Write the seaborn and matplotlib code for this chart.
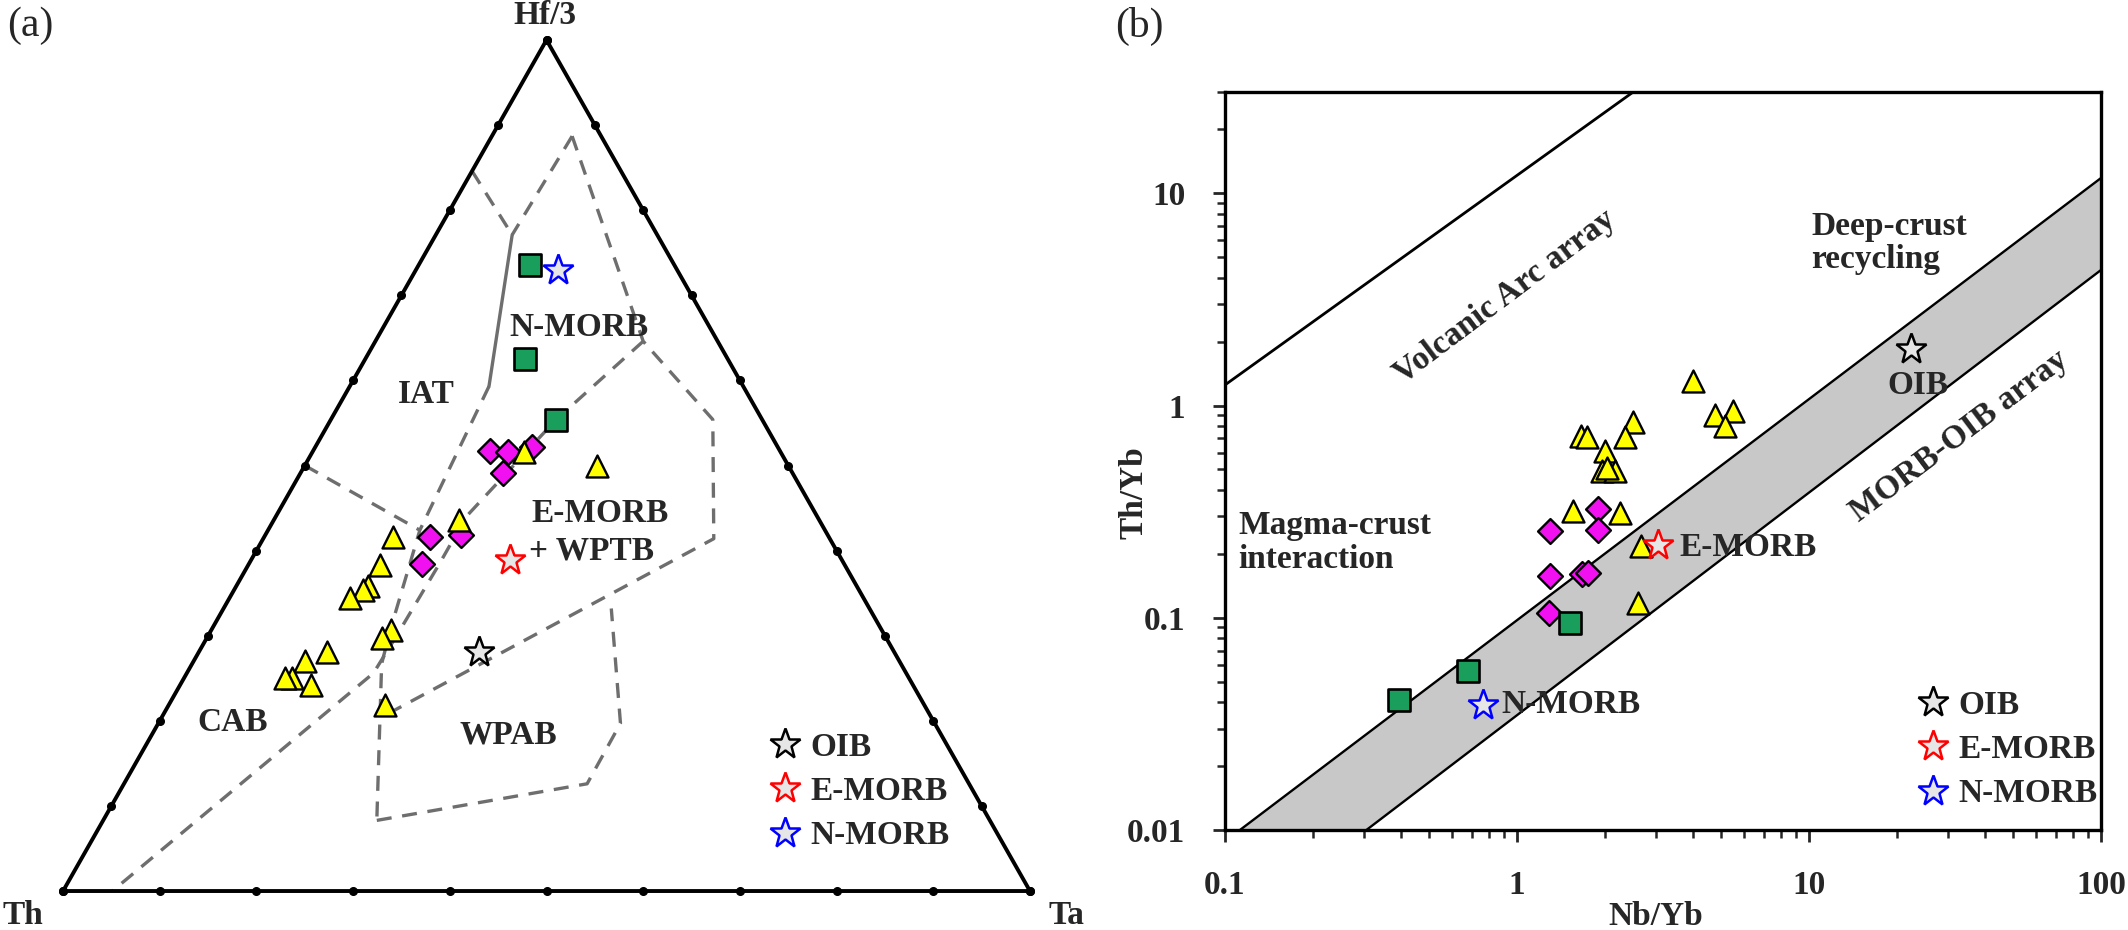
import numpy as np
import matplotlib
matplotlib.use("Agg")
import matplotlib.pyplot as plt
import seaborn as sns
from matplotlib.lines import Line2D
from matplotlib.ticker import LogLocator, NullFormatter, FixedLocator, FixedFormatter

sns.set_style("white")
plt.rcParams["font.family"] = ["Liberation Serif", "DejaVu Serif"]
plt.rcParams["font.weight"] = "bold"

FS = 24

# ---------------- (a) Th - Hf/3 - Ta, values in % ----------------
sq_hf = [73.6, 62.5, 55.4]
sq_th = [14.9, 21.0, 21.3]
sq_ta = [11.5, 16.5, 23.3]

dia_hf = [51.7, 51.6, 52.2, 49.1, 41.6, 41.8, 38.4]
dia_th = [30.0, 28.2, 25.4, 30.0, 41.3, 37.9, 43.7]
dia_ta = [18.3, 20.2, 22.4, 20.9, 17.1, 20.3, 17.9]

tri_hf = [51.6, 49.9, 43.6, 41.6, 38.3, 35.8, 35.4, 34.4, 30.7, 29.7, 28.1, 27.0, 25.0, 24.2, 25.0, 21.8]
tri_th = [26.5, 19.8, 37.2, 45.1, 48.1, 50.6, 51.3, 53.1, 50.7, 52.2, 58.7, 61.5, 63.8, 62.3, 64.5, 55.8]
tri_ta = [21.9, 30.3, 19.2, 13.3, 13.6, 13.6, 13.3, 12.5, 18.6, 18.1, 13.2, 11.5, 11.2, 13.5, 10.5, 22.4]

ref_names = ["OIB", "E-MORB", "N-MORB"]
ref_colors = ["black", "red", "blue"]
ref_hf = [28.1, 38.9, 73.0]
ref_th = [42.9, 34.3, 12.4]
ref_ta = [29.0, 26.8, 14.7]

# field boundaries as (Hf/3, Ta) in %, Th is the rest
arc_top = [(84.6, 0.0), (77.1, 7.9)]
morb_top = [(88.7, 8.3), (77.1, 7.9)]
arc_solid = [(77.1, 7.9), (59.3, 14.4)]
arc_right = [(59.3, 14.4), (42.4, 15.7), (30.7, 18.5), (26.7, 19.6), (8.3, 28.3)]
iat_cab = [(50.0, 0.0), (42.4, 15.7)]
wpab = [(8.3, 28.3), (12.6, 47.9), (19.7, 47.8), (33.2, 40.1)]
emorb_outer = [(88.7, 8.3), (64.6, 27.7), (55.4, 39.5), (41.4, 46.6), (20.4, 22.7)]
morb_split = [(64.6, 27.7), (55.4, 23.3), (44.0, 19.7), (38.6, 19.7), (30.0, 19.5),
              (25.6, 19.3), (0.0, 5.1)]

# ---------------- (b) Th/Yb vs Nb/Yb ----------------
tri_nb = [4.0, 4.77, 5.5, 5.15, 1.65, 1.73, 2.49, 2.34, 2.0, 1.95, 2.17, 2.03, 1.55, 2.25, 2.65, 2.6]
tri_thyb = [1.30, 0.90, 0.94, 0.80, 0.72, 0.71, 0.84, 0.71, 0.61, 0.49, 0.49, 0.51, 0.32, 0.31, 0.217, 0.117]
dia_nb = [1.90, 1.90, 1.30, 1.30, 1.67, 1.75, 1.29]
dia_thyb = [0.327, 0.258, 0.255, 0.158, 0.16, 0.163, 0.105]
sq_nb = [1.52, 0.68, 0.394]
sq_thyb = [0.094, 0.056, 0.041]
ref_nb = [22.3, 3.03, 0.766]
ref_thyb = [1.85, 0.22, 0.0387]

arc_nb = [0.1, 2.5]
arc_thyb = [1.25, 30.0]
band_up_nb = [0.1125, 100]
band_up_thyb = [0.01, 11.8]
band_lo_nb = [0.305, 100]
band_lo_thyb = [0.01, 4.35]

TRI_C = "#ffff00"
DIA_C = "#f010f0"
SQ_C = "#1a9e5c"
STAR_FILL = "#e6e6e6"
DASH_C = "#6e6e6e"


def tern(hf, th, ta):
    hf = np.asarray(hf, float)
    th = np.asarray(th, float)
    ta = np.asarray(ta, float)
    tot = hf + th + ta
    return (ta + hf / 2) / tot, hf / tot


def tern_line(pts):
    hf = np.array([p[0] for p in pts])
    ta = np.array([p[1] for p in pts])
    return tern(hf, 100 - hf - ta, ta)


fig = plt.figure(figsize=(21.28, 9.3), dpi=100)

# ---------------- ternary panel ----------------
ax1 = fig.add_axes([0, 0, 0.5, 1])
ax1.set_xlim(-0.0652, 1.0352)
ax1.set_ylim(-0.0458, 1.047)
ax1.axis("off")

ax1.plot([0, 1, 0.5, 0], [0, 0, 1, 0], color="black", lw=2.8, zorder=3,
         solid_joinstyle="miter")
f = np.linspace(0, 1, 11)
ax1.plot(f, np.zeros_like(f), "o", color="black", ms=5.5, zorder=4)
ax1.plot(f / 2, f, "o", color="black", ms=5.5, zorder=4)
ax1.plot(1 - f / 2, f, "o", color="black", ms=5.5, zorder=4)

for line in [arc_top, morb_top, arc_right, iat_cab, wpab, emorb_outer, morb_split]:
    x, y = tern_line(line)
    ax1.plot(x, y, color=DASH_C, lw=2.4, dashes=(4.5, 3.2), zorder=2)
x, y = tern_line(arc_solid)
ax1.plot(x, y, color=DASH_C, lw=2.4, zorder=2)

x, y = tern(dia_hf, dia_th, dia_ta)
sns.scatterplot(x=x, y=y, marker="D", s=160, color=DIA_C, edgecolor="black",
                linewidth=1.7, ax=ax1, zorder=5)
x, y = tern(tri_hf, tri_th, tri_ta)
sns.scatterplot(x=x, y=y, marker="^", s=250, color=TRI_C, edgecolor="black",
                linewidth=1.7, ax=ax1, zorder=6)
x, y = tern(sq_hf, sq_th, sq_ta)
sns.scatterplot(x=x, y=y, marker="s", s=250, color=SQ_C, edgecolor="black",
                linewidth=1.9, ax=ax1, zorder=6)
x, y = tern(ref_hf, ref_th, ref_ta)
for xi, yi, c in zip(x, y, ref_colors):
    ax1.plot(xi, yi, marker="*", ms=23, mfc=STAR_FILL, mec=c, mew=1.8, zorder=7)

lab = dict(fontsize=FS, fontweight="bold", ha="center", va="center")
ax1.text(0.376, 0.583, "IAT", **lab)
ax1.text(0.534, 0.662, "N-MORB", **lab)
ax1.text(0.555, 0.444, "E-MORB", **lab)
ax1.text(0.547, 0.399, "+ WPTB", **lab)
ax1.text(0.4605, 0.183, "WPAB", **lab)
ax1.text(0.175, 0.1986, "CAB", **lab)

handles = [Line2D([], [], ls="none", marker="*", ms=23, mfc=STAR_FILL, mec=c, mew=1.8)
           for c in ref_colors]
ax1.legend(handles, ref_names, loc="upper left", bbox_to_anchor=(752 / 2128, 1 - 715 / 930),
           bbox_transform=fig.transFigure, frameon=False, prop=dict(size=FS, weight="bold"),
           handlelength=1.0, handletextpad=0.25, labelspacing=0.4, borderpad=0)

fig.text(545 / 2128, 1 - 16 / 930, "Hf/3", fontsize=FS, fontweight="bold", ha="center", va="center")
fig.text(23 / 2128, 1 - 915 / 930, "Th", fontsize=FS, fontweight="bold", ha="center", va="center")
fig.text(1066 / 2128, 1 - 915 / 930, "Ta", fontsize=FS, fontweight="bold", ha="center", va="center")
fig.text(30 / 2128, 1 - 26 / 930, "(a)", fontsize=30, fontweight="normal", ha="center", va="center")
fig.text(1139 / 2128, 1 - 26 / 930, "(b)", fontsize=30, fontweight="normal", ha="center", va="center")

# ---------------- log panel ----------------
ax2 = fig.add_axes([1225 / 2128, 1 - 830 / 930, 876 / 2128, 738 / 930])
ax2.set_xscale("log")
ax2.set_yscale("log")
ax2.set_xlim(0.1, 100)
ax2.set_ylim(0.01, 30)

ax2.fill(band_up_nb + band_lo_nb[::-1], band_up_thyb + band_lo_thyb[::-1],
         color="#c8c8c8", lw=0, zorder=1)
sns.lineplot(x=band_up_nb, y=band_up_thyb, color="black", lw=1.7, ax=ax2, zorder=2)
sns.lineplot(x=band_lo_nb, y=band_lo_thyb, color="black", lw=1.7, ax=ax2, zorder=2)
sns.lineplot(x=arc_nb, y=arc_thyb, color="black", lw=2.0, ax=ax2, zorder=2)

sns.scatterplot(x=tri_nb, y=tri_thyb, marker="^", s=250, color=TRI_C, edgecolor="black",
                linewidth=1.7, ax=ax2, zorder=5)
sns.scatterplot(x=dia_nb, y=dia_thyb, marker="D", s=160, color=DIA_C, edgecolor="black",
                linewidth=1.7, ax=ax2, zorder=5)
sns.scatterplot(x=sq_nb, y=sq_thyb, marker="s", s=250, color=SQ_C, edgecolor="black",
                linewidth=1.9, ax=ax2, zorder=5)
for xi, yi, c in zip(ref_nb, ref_thyb, ref_colors):
    ax2.plot(xi, yi, marker="*", ms=23, mfc=STAR_FILL, mec=c, mew=1.8, zorder=7)

ax2.text(0.907, 3.25, "Volcanic Arc array", rotation=37, rotation_mode="anchor", **lab)
ax2.text(32.7, 0.714, "MORB-OIB array", rotation=37, rotation_mode="anchor", **lab)
ax2.text(10.2, 5.83, "Deep-crust\nrecycling", fontsize=FS, fontweight="bold",
         ha="left", va="center", linespacing=1.1)
ax2.text(0.111, 0.226, "Magma-crust\ninteraction", fontsize=FS, fontweight="bold",
         ha="left", va="center", linespacing=1.1)
ax2.text(23.6, 1.24, "OIB", **lab)
ax2.text(3.61, 0.214, "E-MORB", fontsize=FS, fontweight="bold", ha="left", va="center")
ax2.text(0.884, 0.0389, "N-MORB", fontsize=FS, fontweight="bold", ha="left", va="center")

ax2.legend(handles, ref_names, loc="upper left", bbox_to_anchor=(1900 / 2128, 1 - 673 / 930),
           bbox_transform=fig.transFigure, frameon=False, prop=dict(size=FS, weight="bold"),
           handlelength=1.0, handletextpad=0.25, labelspacing=0.4, borderpad=0)

ax2.xaxis.set_major_locator(FixedLocator([0.1, 1, 10, 100]))
ax2.xaxis.set_major_formatter(FixedFormatter(["0.1", "1", "10", "100"]))
ax2.yaxis.set_major_locator(FixedLocator([0.01, 0.1, 1, 10]))
ax2.yaxis.set_major_formatter(FixedFormatter(["0.01", "0.1", "1", "10"]))
for a in (ax2.xaxis, ax2.yaxis):
    a.set_minor_locator(LogLocator(base=10, subs=np.arange(2, 10), numticks=20))
    a.set_minor_formatter(NullFormatter())
ax2.tick_params(which="major", direction="out", length=8.5, width=2, pad=20,
                labelsize=FS, left=True, bottom=True)
ax2.tick_params(which="minor", direction="out", length=5.5, width=1.8, left=True, bottom=True)
for lbl in ax2.get_xticklabels() + ax2.get_yticklabels():
    lbl.set_fontweight("bold")
for s in ax2.spines.values():
    s.set_linewidth(2.4)
    s.set_color("black")

fig.text(1134 / 2128, 1 - 493 / 930, "Th/Yb", rotation=90, fontsize=FS, fontweight="bold",
         ha="center", va="center")
fig.text(1656 / 2128, 1 - 916 / 930, "Nb/Yb", fontsize=FS, fontweight="bold",
         ha="center", va="center")

fig.savefig("out.png", dpi=100)
